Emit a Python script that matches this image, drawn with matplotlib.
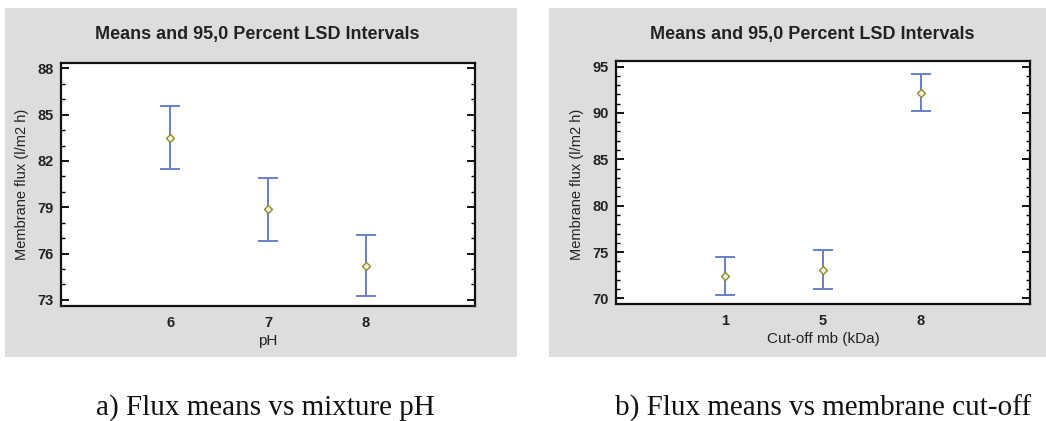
import matplotlib.pyplot as plt
from matplotlib.patches import Rectangle
from matplotlib.ticker import MultipleLocator

# panel a) pH
ph_levels = ["6", "7", "8"]
ph_mean = [83.47, 78.89, 75.22]
ph_low = [81.46, 76.84, 73.22]
ph_high = [85.56, 80.92, 77.23]

# panel b) cut-off
cut_levels = ["1", "5", "8"]
cut_mean = [72.39, 73.07, 92.20]
cut_low = [70.37, 71.05, 90.19]
cut_high = [74.44, 75.19, 94.21]

W, H = 1046, 421
fig = plt.figure(figsize=(W / 100, H / 100), dpi=100)
fig.patch.set_facecolor("white")

panel_gray = "#dcdddf"
bar_col = "#6a80c6"
mark_col = "#8c8c2c"


def px(x0, y0, x1, y1):
    # pixel box -> figure fraction [left, bottom, width, height]
    return [x0 / W, 1 - y1 / H, (x1 - x0) / W, (y1 - y0) / H]


def draw_panel(panel_box, ax_box, levels, mean, low, high, ylim, yticks,
               title_x, ylabel_x, xlabel, caption, caption_x):
    fig.patches.append(Rectangle((panel_box[0], panel_box[1]), panel_box[2], panel_box[3],
                                 transform=fig.transFigure, facecolor=panel_gray,
                                 edgecolor="none", zorder=-5))
    ax = fig.add_axes(ax_box)
    ax.set_facecolor("white")
    pos = list(range(len(levels)))
    yerr = [[m - l for m, l in zip(mean, low)], [h - m for m, h in zip(mean, high)]]
    ax.errorbar(pos, mean, yerr=yerr, fmt="none", ecolor=bar_col, elinewidth=1.4,
                capsize=7, capthick=1.4)
    ax.plot(pos, mean, linestyle="none", marker="D", markersize=4,
            markerfacecolor="#f4f4e0", markeredgecolor=mark_col, markeredgewidth=1.0)
    ax.set_xlim(-1.12, len(levels) + 0.12)
    ax.set_ylim(*ylim)
    ax.set_xticks(pos)
    ax.set_xticklabels(levels)
    ax.set_yticks(yticks)
    ax.yaxis.set_minor_locator(MultipleLocator(1))
    ax.tick_params(axis="x", length=0, pad=7)
    ax.tick_params(axis="y", which="both", direction="in", left=True, right=True)
    ax.tick_params(axis="y", which="major", length=6, width=1.3, pad=5)
    ax.tick_params(axis="y", which="minor", length=3, width=1.0)
    for lab in ax.get_xticklabels() + ax.get_yticklabels():
        lab.set_fontfamily("Liberation Sans")
        lab.set_fontweight("bold")
        lab.set_fontsize(10.5)
        lab.set_color("#222222")
    for sp in ax.spines.values():
        sp.set_linewidth(1.6)
        sp.set_color("#111111")

    fig.text(title_x / W, 1 - 35 / H, "Means and 95,0 Percent LSD Intervals",
             ha="center", va="center", fontsize=13, fontweight="bold",
             family="Liberation Sans", color="#222222")
    fig.text(ylabel_x / W, 1 - 184 / H, "Membrane flux (l/m2 h)", rotation=90,
             ha="center", va="center", fontsize=10.5,
             family="Liberation Sans", color="#222222")
    ax.set_xlabel(xlabel, fontsize=11, family="Liberation Sans", color="#222222",
                  labelpad=3)
    fig.text(caption_x / W, 1 - 408 / H, caption, ha="center", va="center",
             fontsize=21, family="Liberation Serif", color="#111111")
    return ax


draw_panel(px(5, 8, 517, 357), px(61, 63, 475, 306), ph_levels, ph_mean, ph_low, ph_high,
           (72.6, 88.35), [73, 76, 79, 82, 85, 88], 257, 22, "pH",
           "a) Flux means vs mixture pH", 265)
draw_panel(px(549, 8, 1046, 357), px(616, 61, 1030, 304), cut_levels, cut_mean, cut_low, cut_high,
           (69.4, 95.6), [70, 75, 80, 85, 90, 95], 812, 577, "Cut-off mb (kDa)",
           "b) Flux means vs membrane cut-off", 823)

fig.savefig("out.png", dpi=100)
